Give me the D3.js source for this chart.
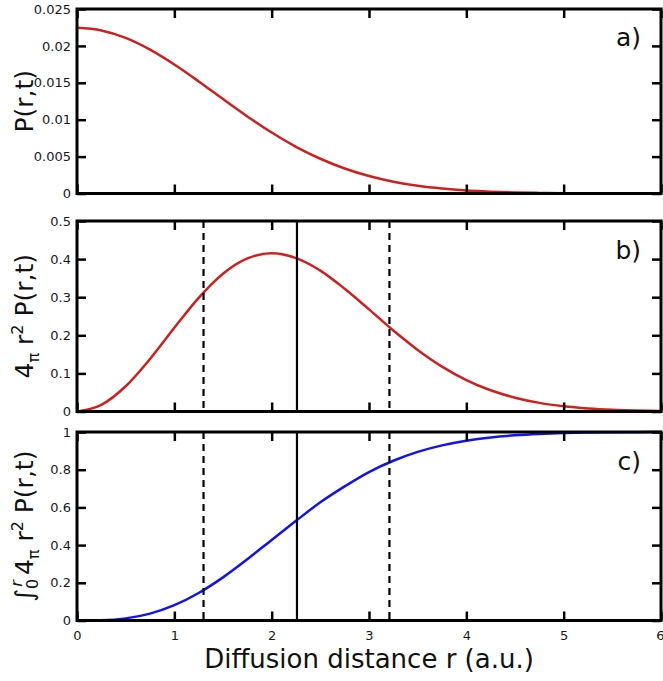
<!DOCTYPE html>
<html><head><meta charset="utf-8">
<script src="https://cdn.jsdelivr.net/npm/d3@7"></script>
<style>body{margin:0;background:#fff}svg{display:block}</style>
</head><body>
<svg id="chart" width="663" height="681"></svg>
<script>
// ---- data ----
const rValues = [0,0.25,0.5,0.75,1,1.25,1.5,1.75,2,2.25,2.5,2.75,3,3.25,3.5,3.75,4,4.25,4.5,4.75,5,5.25,5.5,5.75,6];
const probability = [0.02245,0.02210,0.02109,0.01950,0.01748,0.01519,0.01279,0.01044,0.00826,0.00633,0.00471,0.00339,0.00237,0.00160,0.00105,0.00067,0.00041,0.00025,0.00014,0.00008,0.00004,0.00002,0.00001,0.00001,0.00000];
const radialDensity = [0,0.0174,0.0663,0.1378,0.2197,0.2983,0.3616,0.4018,0.4152,0.4027,0.3699,0.3222,0.2681,0.2125,0.1617,0.1179,0.0826,0.0557,0.0362,0.0226,0.0136,0.0079,0.0044,0.0024,0.0013];
const cumulative = [0,0.0015,0.0113,0.0365,0.0811,0.1461,0.2289,0.3250,0.4276,0.5287,0.6273,0.7118,0.7877,0.8474,0.8943,0.9290,0.9540,0.9712,0.9825,0.9897,0.9942,0.9968,0.9983,0.9991,0.9996];
const xTicks = [0,1,2,3,4,5,6];
const yTicksA = [0,0.005,0.01,0.015,0.02,0.025];
const yTicksB = [0,0.1,0.2,0.3,0.4,0.5];
const yTicksC = [0,0.2,0.4,0.6,0.8,1];
const meanDistance = 2.26;
const spreadBounds = [1.30, 3.21];
const panelLabels = ["a)","b)","c)"];
const xLabel = "Diffusion distance r (a.u.)";

// ---- layout ----
const FONT = "DejaVu Sans";
const svg = d3.select("#chart");
const left = 77, right = 661;
const panels = [
  {top: 9,   bottom: 193.5, values: probability,   ticks: yTicksA, domain: [0,0.025], color: "#d01f1f", label: panelLabels[0], markers: false},
  {top: 221, bottom: 411.5, values: radialDensity, ticks: yTicksB, domain: [0,0.5],   color: "#d01f1f", label: panelLabels[1], markers: true},
  {top: 432, bottom: 620.5, values: cumulative,    ticks: yTicksC, domain: [0,1],     color: "#1212f2", label: panelLabels[2], markers: true}
];
const x = d3.scaleLinear().domain([0,6]).range([left,right]);
const fmt = d3.format("~g");

panels.forEach((p, i) => {
  const y = d3.scaleLinear().domain(p.domain).range([p.bottom, p.top]);
  const g = svg.append("g");

  // curve
  const line = d3.line().x((d,j) => x(rValues[j])).y(d => y(d)).curve(d3.curveMonotoneX);
  g.append("path").datum(p.values).attr("d", line)
    .attr("fill","none").attr("stroke",p.color).attr("stroke-width",2.5);

  // vertical marker lines
  if (p.markers) {
    g.append("line").attr("x1",x(meanDistance)).attr("x2",x(meanDistance))
      .attr("y1",p.top).attr("y2",p.bottom).attr("stroke","#000").attr("stroke-width",2.2);
    spreadBounds.forEach(v => {
      g.append("line").attr("x1",x(v)).attr("x2",x(v))
        .attr("y1",p.top).attr("y2",p.bottom).attr("stroke","#000").attr("stroke-width",2.2)
        .attr("stroke-dasharray","7,5");
    });
  }

  // axes (ticks inward)
  const ax = (gen, tx, ty) => {
    const a = g.append("g").attr("transform",`translate(${tx},${ty})`).call(gen);
    a.select(".domain").remove();
    a.selectAll(".tick line").attr("stroke","#000").attr("stroke-width",2.5);
    a.selectAll("text").attr("font-family",FONT).attr("font-size",13).attr("fill","#1a1a1a");
    return a;
  };
  ax(d3.axisLeft(y).tickValues(p.ticks).tickFormat(fmt).tickSizeInner(-9).tickSizeOuter(0).tickPadding(6), left, 0);
  ax(d3.axisRight(y).tickValues(p.ticks).tickFormat("").tickSizeInner(-9).tickSizeOuter(0), right, 0);
  ax(d3.axisTop(x).tickValues(xTicks).tickFormat("").tickSizeInner(-9).tickSizeOuter(0), 0, p.top);
  const bx = ax(d3.axisBottom(x).tickValues(xTicks).tickFormat(i === 2 ? fmt : "").tickSizeInner(-9).tickSizeOuter(0).tickPadding(10), 0, p.bottom);
  // keep the last label inside the page edge
  bx.selectAll(".tick text").filter(d => d === 6).attr("text-anchor","end").attr("dx",3);

  // frame
  g.append("rect").attr("x",left).attr("y",p.top).attr("width",right-left).attr("height",p.bottom-p.top)
    .attr("fill","none").attr("stroke","#000").attr("stroke-width",3);

  // panel label
  g.append("text").attr("x",641).attr("y",p.top + 0.2*(p.bottom-p.top))
    .attr("text-anchor","end").attr("font-family",FONT).attr("font-size",25).attr("fill","#111")
    .text(p.label);

  // y label
  const cy = (p.top + p.bottom)/2;
  const t = svg.append("text").attr("transform",`translate(33,${cy}) rotate(-90)`)
    .attr("text-anchor","middle").attr("font-family",FONT).attr("font-size",25).attr("fill","#111");
  if (i === 0) {
    t.text("P(r,t)");
  } else {
    if (i === 2) {
      t.append("tspan").text("\u222B");
      t.append("tspan").attr("font-size",16).attr("dy",5).text("0");
      t.append("tspan").attr("font-size",16).attr("dx",-8).attr("dy",-16).attr("font-style","italic").text("r");
      t.append("tspan").attr("dx",5).attr("dy",11).text("4");
    } else {
      t.append("tspan").text("4");
    }
    t.append("tspan").attr("font-size",16).attr("dy",6).text("\u03C0");
    t.append("tspan").attr("dy",-6).text(" r");
    t.append("tspan").attr("font-size",16).attr("dy",-10).text("2");
    t.append("tspan").attr("dy",10).text(" P(r,t)");
  }
});

// x label
svg.append("text").attr("x",(left+right)/2).attr("y",668).attr("text-anchor","middle")
  .attr("font-family",FONT).attr("font-size",26).attr("fill","#111").text(xLabel);
</script>
</body></html>
